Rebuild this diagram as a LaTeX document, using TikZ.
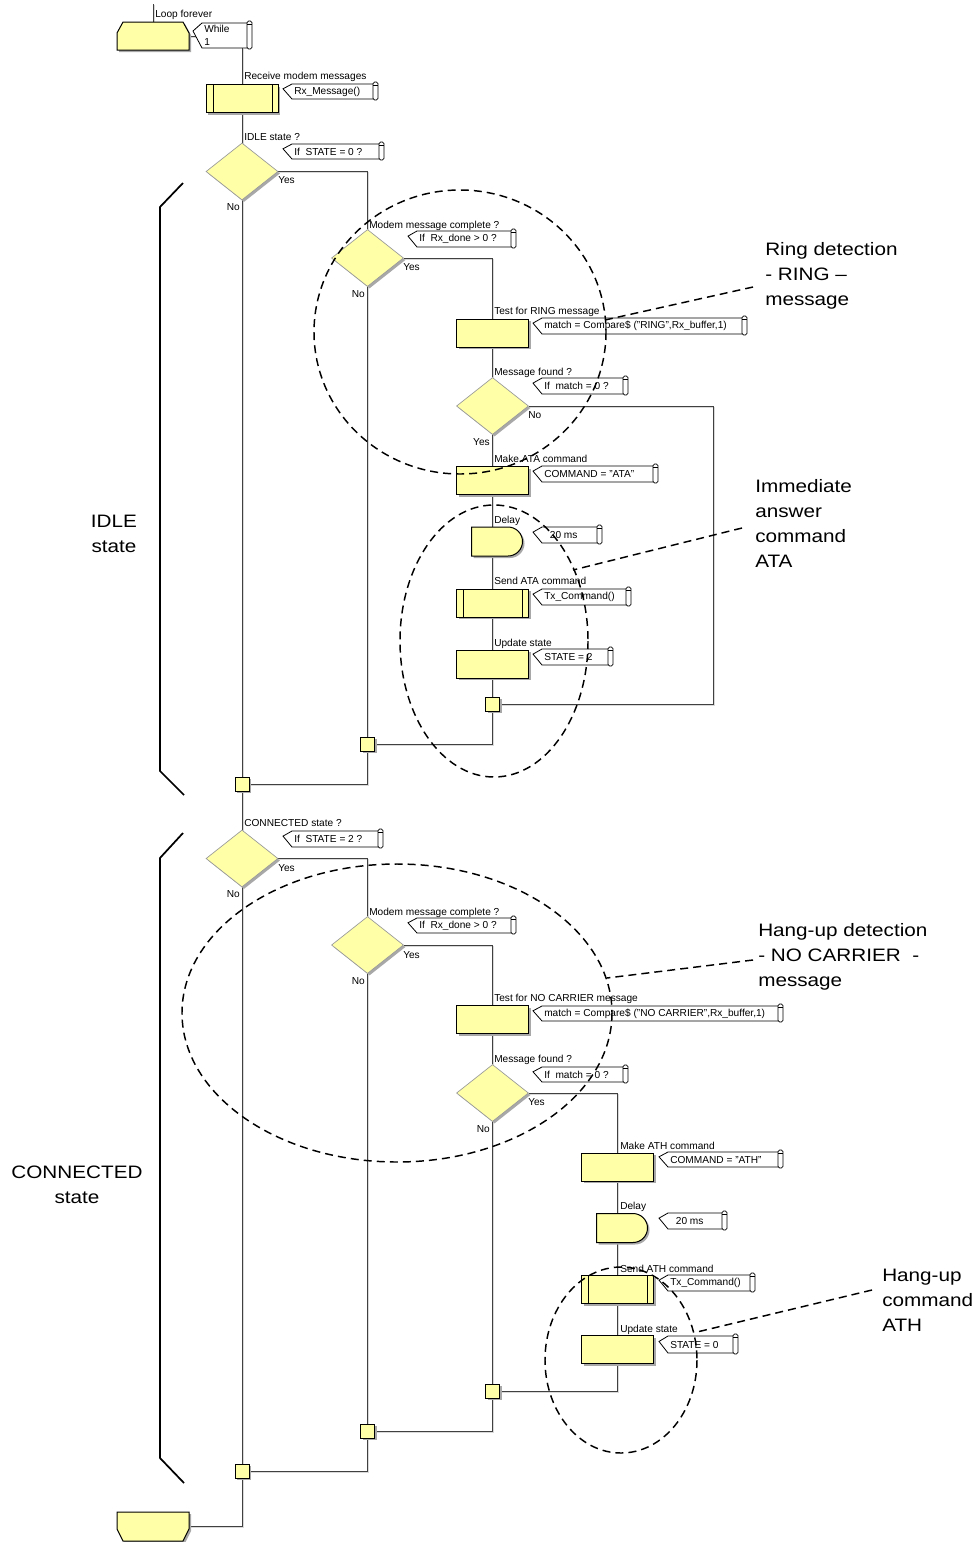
\documentclass[tikz,border=0pt]{standalone}
\usepackage{fontspec}
\setmainfont{Liberation Sans}
\newfontfamily\annfont{Liberation Sans}[FakeStretch=1.15]
\usetikzlibrary{shapes.geometric,shapes.misc,shadows}
\pgfdeclarelayer{bg}
\pgfsetlayers{bg,main}
\definecolor{yel}{HTML}{FFFFA8}
\definecolor{flowc}{HTML}{404040}
\definecolor{shd}{HTML}{A8A8A8}
\tikzset{
 sm/.style={font=\fontsize{7.6}{9.5}\selectfont, inner sep=0pt},
 lbl/.style={sm, anchor=base west},
 yn/.style={sm},
 shad/.style={drop shadow={shadow xshift=1.5pt,shadow yshift=-1.5pt,fill=shd,opacity=1}},
 boxst/.style={draw=black, line width=0.75pt, fill=yel, shad},
 proc/.style={boxst, rectangle, minimum width=54pt, minimum height=21pt, inner sep=0pt},
 sub/.style={proc, path picture={
   \draw[line width=0.75pt] ([xshift=5.25pt]path picture bounding box.north west) -- ([xshift=5.25pt]path picture bounding box.south west);
   \draw[line width=0.75pt] ([xshift=-4.5pt]path picture bounding box.north east) -- ([xshift=-4.5pt]path picture bounding box.south east);}},
 dec/.style={diamond, fill=yel, draw=black!40, line width=0.5pt, shad, minimum width=54pt, minimum height=42.75pt, inner sep=0pt},
 dly/.style={boxst, rounded rectangle, rounded rectangle left arc=none, minimum width=38.25pt, minimum height=21.75pt, inner sep=0pt},
 junc/.style={boxst, rectangle, minimum size=10.5pt, inner sep=0pt},
 blank/.style={rectangle, draw=none, fill=none, minimum width=54pt, minimum height=21pt, inner sep=0pt},
 flow/.style={draw=flowc, line width=0.75pt, preaction={draw=black!15, line width=0.75pt, transform canvas={shift={(0.75pt,-0.75pt)}}}},
 tagst/.style={draw=black, line width=0.6pt, fill=white},
 tagtext/.style={sm, anchor=west, align=left},
 brk/.style={draw=black, line width=1.3pt},
 ann/.style={font=\annfont\fontsize{13.5}{18.75}\selectfont, align=left, anchor=north west, inner sep=0pt},
 stt/.style={font=\annfont\fontsize{13.5}{18.75}\selectfont, align=center, inner sep=0pt},
 dsh/.style={draw=black, line width=1.1pt, dash pattern=on 6pt off 3.8pt},
}
% name, tip x, top y, right x, bottom y, text
\newcommand\ctag[6]{%
 \filldraw[tagst] (#2,{#3+0.32*(#5-#3)}) -- (#2+9,#3) -- (#4,#3) -- (#4,#5) -- (#2+9,#5) -- cycle;
 \filldraw[tagst, rounded corners=1.2pt] (#4-1,#3-2) rectangle (#4+4,#5+1);
 \draw[line width=0.5pt] (#4-1,#3+1.5) -- (#4+4,#3+1.5);
 \node[tagtext] (#1) at (#2+11,{(#3+#5)/2}) {#6};}
\newcommand\flabel[3]{\node[lbl] (#1) at (#2) {#3};}
\begin{document}
\begin{tikzpicture}[x=0.75pt,y=-0.75pt]
\path[use as bounding box] (0,0) rectangle (979,1542);
\begin{pgfonlayer}{bg}
\fill[white] (0,0) rectangle (979,1542);
\end{pgfonlayer}

% brackets
\draw[brk] (183,183) -- (160,207) -- (160,771) -- (184,795);
\draw[brk] (183,833) -- (160,858) -- (160,1458) -- (184,1483);
\node[stt] (sidle) at (114,533.5) {IDLE\\state};
\node[stt] (sconn) at (77,1184.5) {CONNECTED\\state};

% loop blocks
\node[blank] (loop1) at (153,36) {};
\filldraw[boxst] (117,50) -- (117,33) -- (123,22) -- (183,22) -- (189,33) -- (189,50) -- cycle;
\node[blank] (loop2) at (153,1526.5) {};
\filldraw[boxst] (117,1512) -- (189,1512) -- (189,1529) -- (183,1541) -- (123,1541) -- (117,1529) -- cycle;
\coordinate (ltop) at (153,4);
\coordinate (lbot) at (153,1542);
\coordinate (wpt) at (196,36);
\coordinate (mstart) at (242,48);
\coordinate (r1) at (713,704);

% flow nodes
\node[sub] (rx) at (242,98.5) {};
\node[dec] (idle) at (242,171.5) {};
\node[dec] (mmc1) at (367.5,258) {};
\node[proc] (ring) at (492.5,333) {};
\node[dec] (mf1) at (492.5,406) {};
\node[proc] (ata) at (492.5,480.5) {};
\node[dly] (dl1) at (497,541.5) {};
\node[sub] (sata) at (492.5,603) {};
\node[proc] (upd1) at (492.5,664) {};
\node[junc] (j1) at (492.5,704) {};
\node[junc] (j2) at (367.5,744) {};
\node[junc] (j3) at (242,784) {};
\node[dec] (conn) at (242,858.5) {};
\node[dec] (mmc2) at (367.5,945) {};
\node[proc] (noc) at (492.5,1019.5) {};
\node[dec] (mf2) at (492.5,1093) {};
\node[proc] (ath) at (617.5,1167) {};
\node[dly] (dl2) at (622,1228) {};
\node[sub] (sath) at (617.5,1289.5) {};
\node[proc] (upd2) at (617.5,1349.5) {};
\node[junc] (j4) at (492.5,1391) {};
\node[junc] (j5) at (367.5,1431) {};
\node[junc] (j6) at (242,1471) {};

\begin{pgfonlayer}{bg}
\draw[flow] (loop1.north) -- (ltop);
\draw[flow] (loop1.east) -- (wpt);
\draw[flow] (mstart) -- (rx.north);
\draw[flow] (rx.south) -- (idle.north);
\draw[flow] (idle.east) -| (mmc1.north);
\draw[flow] (idle.south) -- (j3.north);
\draw[flow] (mmc1.east) -| (ring.north);
\draw[flow] (mmc1.south) -- (j2.north);
\draw[flow] (ring.south) -- (mf1.north);
\draw[flow] (mf1.south) -- (ata.north);
\draw[flow] (mf1.east) -| (r1) -- (j1.east);
\draw[flow] (ata.south) -- (sata.north);
\draw[flow] (sata.south) -- (upd1.north);
\draw[flow] (upd1.south) -- (j1.north);
\draw[flow] (j1.south) |- (j2.east);
\draw[flow] (j2.south) |- (j3.east);
\draw[flow] (j3.south) -- (conn.north);
\draw[flow] (conn.east) -| (mmc2.north);
\draw[flow] (conn.south) -- (j6.north);
\draw[flow] (mmc2.east) -| (noc.north);
\draw[flow] (mmc2.south) -- (j5.north);
\draw[flow] (noc.south) -- (mf2.north);
\draw[flow] (mf2.east) -| (ath.north);
\draw[flow] (mf2.south) -- (j4.north);
\draw[flow] (ath.south) -- (sath.north);
\draw[flow] (sath.south) -- (upd2.north);
\draw[flow] (upd2.south) |- (j4.east);
\draw[flow] (j4.south) |- (j5.east);
\draw[flow] (j5.south) |- (j6.east);
\draw[flow] (j6.south) |- (loop2.east);
\draw[flow] (loop2.south) -- (lbot);
\end{pgfonlayer}

% labels
\flabel{lloop}{155,17}{Loop forever}
\flabel{lrx}{244,79}{Receive modem messages}
\flabel{lidle}{244,140}{IDLE state ?}
\flabel{lmmc1}{369,228}{Modem message complete ?}
\flabel{lring}{494,314}{Test for RING message}
\flabel{lmf1}{494,375}{Message found ?}
\flabel{lata}{494,462}{Make ATA command}
\flabel{ldl1}{494,523}{Delay}
\flabel{lsata}{494,584}{Send ATA command}
\flabel{lupd1}{494,646}{Update state}
\flabel{lconn}{244,826}{CONNECTED state ?}
\flabel{lmmc2}{369,915}{Modem message complete ?}
\flabel{lnoc}{494,1001}{Test for NO CARRIER message}
\flabel{lmf2}{494,1062}{Message found ?}
\flabel{lath}{620,1149}{Make ATH command}
\flabel{ldl2}{620,1209}{Delay}
\flabel{lsath}{620,1272}{Send ATH command}
\flabel{lupd2}{620,1332}{Update state}

% yes / no
\node[yn, anchor=north west] (yidle) at (278,176) {Yes};
\node[yn, anchor=north east] (nidle) at (240,203) {No};
\node[yn, anchor=north west] (ymmc1) at (403,263) {Yes};
\node[yn, anchor=north east] (nmmc1) at (365,290) {No};
\node[yn, anchor=north west] (nmf1) at (528,411) {No};
\node[yn, anchor=north east] (ymf1) at (490,438) {Yes};
\node[yn, anchor=north west] (yconn) at (278,864) {Yes};
\node[yn, anchor=north east] (nconn) at (240,890) {No};
\node[yn, anchor=north west] (ymmc2) at (403,951) {Yes};
\node[yn, anchor=north east] (nmmc2) at (365,977) {No};
\node[yn, anchor=north west] (ymf2) at (528,1098) {Yes};
\node[yn, anchor=north east] (nmf2) at (490,1125) {No};

% tags
\ctag{twhile}{193}{23}{248}{48}{While\\1}
\ctag{trx}{283}{84}{374}{99}{Rx\_Message()}
\ctag{tidle}{283}{144}{380}{159}{If\ \ STATE = 0 ?}
\ctag{tmmc1}{408}{231}{512}{247}{If\ \ Rx\_done > 0 ?}
\ctag{tring}{533}{318}{743}{334}{match = Compare\$ ("RING",Rx\_buffer,1)}
\ctag{tmf1}{533}{378}{624}{394}{If\ \ match = 0 ?}
\ctag{tata}{533}{466}{654}{482}{COMMAND = "ATA"}
\ctag{tdl1}{533}{527}{598}{543}{\ \ 20 ms}
\ctag{tsata}{533}{589}{627}{605}{Tx\_Command()}
\ctag{tupd1}{533}{649}{609}{665}{STATE = 2}
\ctag{tconn}{283}{831}{379}{847}{If\ \ STATE = 2 ?}
\ctag{tmmc2}{408}{918}{512}{933}{If\ \ Rx\_done > 0 ?}
\ctag{tnoc}{533}{1006}{779}{1021}{match = Compare\$ ("NO CARRIER",Rx\_buffer,1)}
\ctag{tmf2}{533}{1067}{624}{1082}{If\ \ match = 0 ?}
\ctag{tath}{659}{1152}{779}{1167}{COMMAND = "ATH"}
\ctag{tdl2}{659}{1213}{723}{1229}{\ \ 20 ms}
\ctag{tsath}{659}{1275}{751}{1291}{Tx\_Command()}
\ctag{tupd2}{659}{1336}{734}{1353}{STATE = 0}

% annotations
\node[ann] (aring) at (765,242) {Ring detection\\- RING –\\message};
\node[ann] (aata) at (755,479) {Immediate\\answer\\command\\ATA};
\node[ann] (anoc) at (758,923) {Hang-up detection\\- NO CARRIER~ -\\message};
\node[ann] (aath) at (882,1269) {Hang-up\\command\\ATH};

\draw[dsh] (460,332) ellipse [x radius=146, y radius=142];
\draw[dsh] (494,641) ellipse [x radius=94, y radius=136];
\draw[dsh] (397,1013) ellipse [x radius=215, y radius=149];
\draw[dsh] (621,1360) ellipse [x radius=76, y radius=93];
\coordinate (p1a) at (753,287); \coordinate (p1b) at (605,320);
\coordinate (p2a) at (742,528); \coordinate (p2b) at (573,570);
\coordinate (p3a) at (753,960); \coordinate (p3b) at (607,978);
\coordinate (p4a) at (872,1290); \coordinate (p4b) at (697,1332);
\draw[dsh] (p1a) -- (p1b);
\draw[dsh] (p2a) -- (p2b);
\draw[dsh] (p3a) -- (p3b);
\draw[dsh] (p4a) -- (p4b);
\end{tikzpicture}
\end{document}
